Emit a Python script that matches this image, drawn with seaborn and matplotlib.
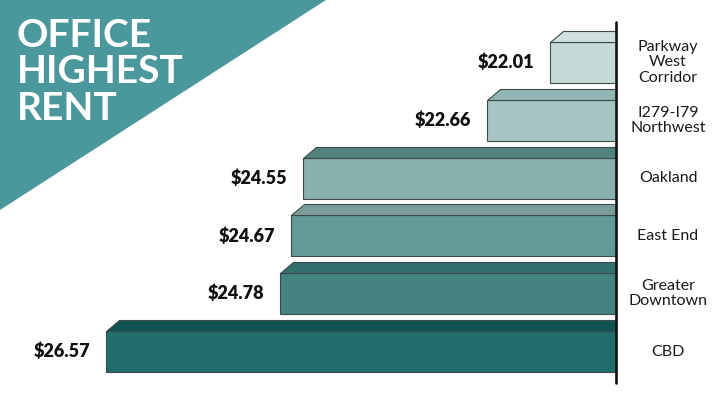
import numpy as np
import pandas as pd
import matplotlib.pyplot as plt
import seaborn as sns
from matplotlib.patches import Polygon
from matplotlib import transforms


# dados (de cima para baixo)
regioes = ["Parkway\nWest\nCorridor", "I279-I79\nNorthwest", "Oakland",
           "East End", "Greater\nDowntown", "CBD"]
aluguel = [22.01, 22.66, 24.55, 24.67, 24.78, 26.57]
rotulos = [r"\$" + f"{v:.2f}" for v in aluguel]
titulo = ["OFFICE", "HIGHEST", "RENT"]

cores_frente = ["#C6DAD8", "#A5C5C3", "#87B0AE", "#639997", "#448380", "#216D6C"]
cores_topo = ["#D0E1DF", "#91B5B2", "#52827F", "#7B9E9B", "#33706D", "#0F5250"]

sns.set_theme(style="white")
plt.rcParams['font.family'] = ['Lato', 'DejaVu Sans']

W, H = 720, 405
fig = plt.figure(figsize=(7.2, 4.05), dpi=100)
eixo_px = 615.5
ax = fig.add_axes([0, 0, eixo_px / W, 1])

df = pd.DataFrame({"regiao": regioes, "aluguel": aluguel})
sns.barplot(data=df, x="aluguel", y="regiao", hue="regiao", palette=cores_frente,
            saturation=1, legend=False, orient="h", width=0.71,
            edgecolor="#3c4a4a", linewidth=0.8, ax=ax)

# escala: nao comeca em zero
base = 21.34
px_por_unidade = 97.4
ax.set_xlim(base + eixo_px / px_por_unidade, base)
passo = 57.8
y0 = 62.5
ax.set_ylim((H - y0) / passo, -y0 / passo)
ax.axis("off")

# face de cima (efeito 3D)
topo_h, topo_dx = 11, 13
for p in ax.patches:
    i = int(round(p.get_y() + p.get_height() / 2))
    v = aluguel[i]
    y_topo = min(p.get_y(), p.get_y() + p.get_height())
    (lx, ty), (rx, _) = ax.transData.transform([(v, y_topo), (base, y_topo)])
    pts = [(lx, ty), (rx, ty), (rx, ty + topo_h), (lx + topo_dx, ty + topo_h)]
    pts = ax.transData.inverted().transform(pts)
    ax.add_patch(Polygon(pts, closed=True, facecolor=cores_topo[i],
                         edgecolor="#3c4a4a", linewidth=0.8, clip_on=False, zorder=3))

# rotulos de valor
for i, (v, r) in enumerate(zip(aluguel, rotulos)):
    ax.annotate(r, xy=(v, i), xytext=(-11.5, 0), textcoords="offset points",
                ha="right", va="center", fontsize=13, fontweight="heavy", color="#111111")

# nomes das regioes
trans = transforms.blended_transform_factory(fig.transFigure, ax.transData)
for i, nome in enumerate(regioes):
    ax.text(668 / W, i, nome, transform=trans, ha="center", va="center",
            fontsize=11.5, linespacing=1.1, color="#1a1a1a")

# linha do eixo
ax.axvline(base, ymin=(H - 383) / H, ymax=(H - 22) / H, color="#111111",
           lw=1.9, clip_on=False, zorder=5)

# triangulo do titulo
fig.add_artist(Polygon([(0, 1), (326 / W, 1), (0, 1 - 210 / H)], closed=True,
                       transform=fig.transFigure, facecolor="#4B989C",
                       edgecolor="none", zorder=1))
for linha, yb in zip(titulo, [47, 83, 120]):
    fig.text(17 / W, 1 - yb / H, linha, color="white", fontsize=28,
             fontweight="bold", va="baseline", ha="left", zorder=2)

fig.savefig("out.png", dpi=100)
